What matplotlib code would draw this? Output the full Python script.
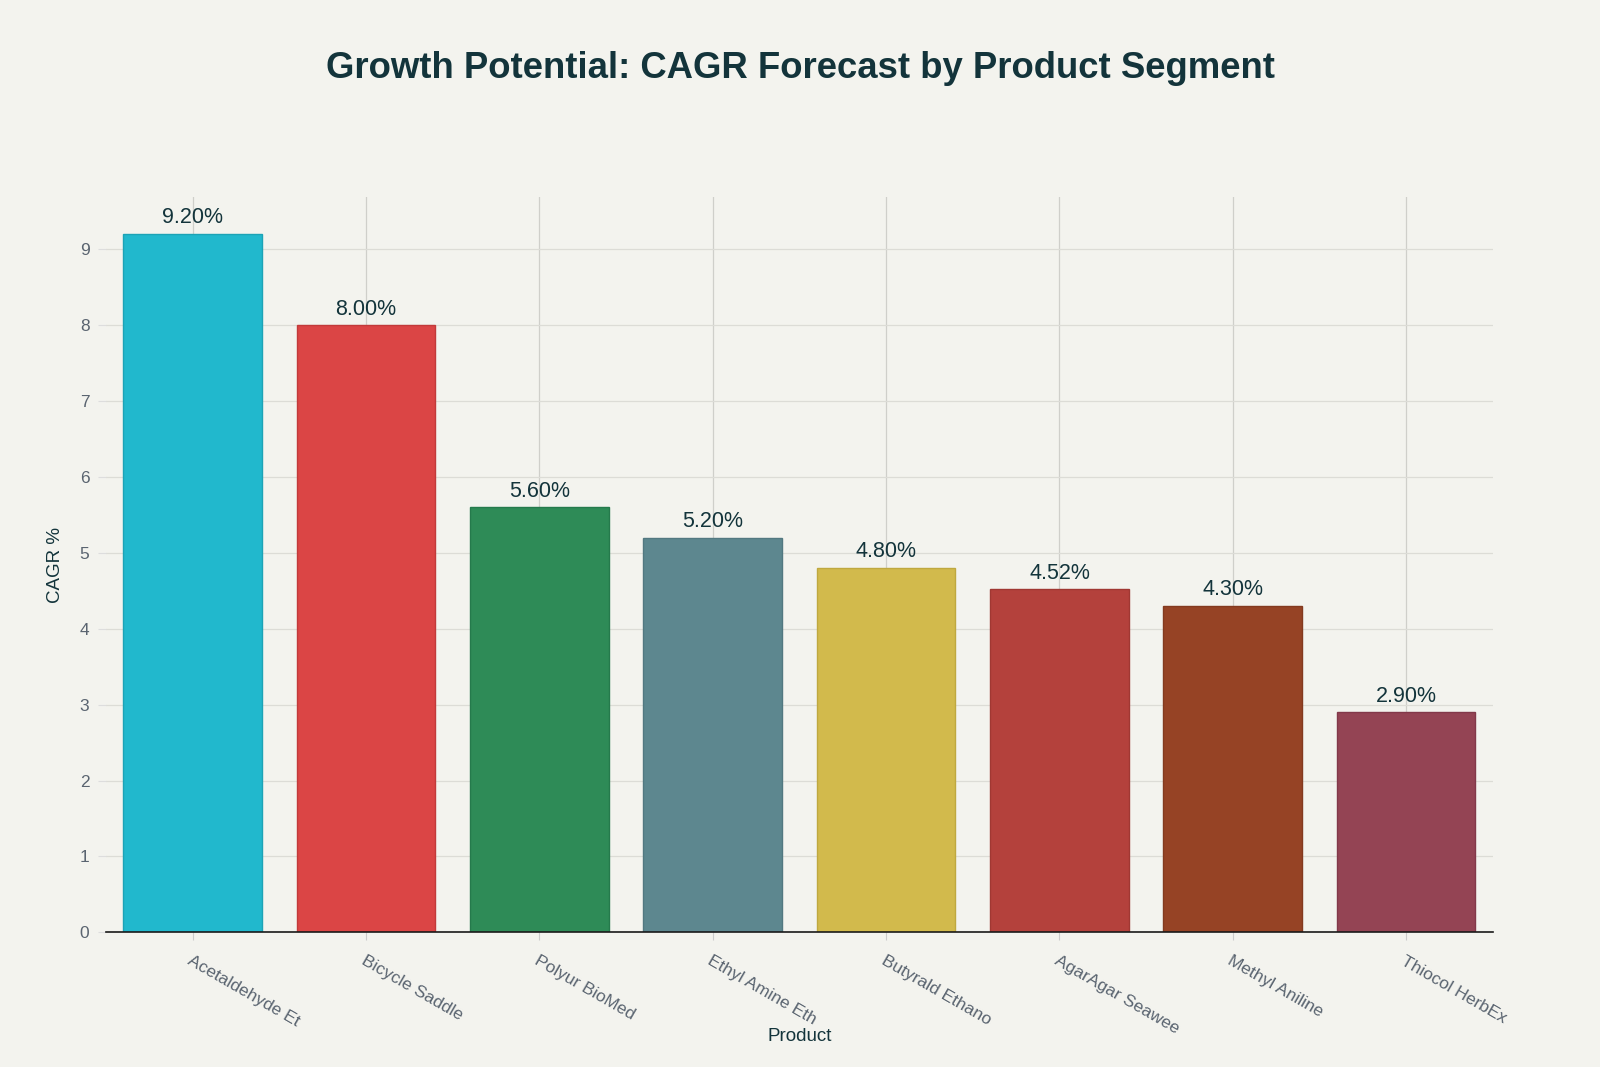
import matplotlib
matplotlib.use("Agg")
import matplotlib.pyplot as plt

products = ["Acetaldehyde Et", "Bicycle Saddle", "Polyur BioMed", "Ethyl Amine Eth",
            "Butyrald Ethano", "AgarAgar Seawee", "Methyl Aniline", "Thiocol HerbEx"]
cagr = [9.20, 8.00, 5.60, 5.20, 4.80, 4.52, 4.30, 2.90]
bar_colors = ["#21B8CD", "#DB4545", "#2E8B57", "#5D878F", "#D2BA4C", "#B4413C", "#964325", "#944454"]
edge_colors = ["#1CA3B6", "#C23A3A", "#257A4C", "#527880", "#BFA83F", "#A03833", "#833A1F", "#82394A"]
y_ticks = [0, 1, 2, 3, 4, 5, 6, 7, 8, 9]

bg = "#F3F3EE"
plt.rcParams['font.family'] = ['Liberation Sans', 'DejaVu Sans']

fig = plt.figure(figsize=(16, 10.67), dpi=100, facecolor=bg)
ax = fig.add_axes([0.0663, 0.1262, 0.8667, 0.6893], facecolor=bg)

x = list(range(len(products)))
ax.bar(x, cagr, width=0.8, color=bar_colors, edgecolor=edge_colors, linewidth=1, zorder=3)
for xi, v in zip(x, cagr):
    ax.annotate(f"{v:.2f}%", (xi, v), xytext=(0, 4), textcoords="offset points",
                ha="center", va="bottom", fontsize=15.5, color="#13343B", zorder=4)

ax.set_xlim(-0.5, len(products) - 0.5)
ax.set_ylim(0, 9.69)
ax.set_yticks(y_ticks)
ax.set_xticks(x)
ax.set_xticklabels(products, rotation=-30, ha="left", rotation_mode="anchor",
                   fontsize=12.5, color="#5A6470")
ax.tick_params(axis="x", length=6, color="#CCCCCC", pad=9)
ax.tick_params(axis="y", length=6, color="#DDDDDD", labelsize=12.5, labelcolor="#5A6470", pad=6)

ax.grid(True, axis="both", color="#DCDCD6", linewidth=0.9, zorder=0)
ax.xaxis.grid(True, color="#CFCFCA")
for s in ["top", "right", "left"]:
    ax.spines[s].set_visible(False)
ax.spines["bottom"].set_color("#1A1A1A")
ax.spines["bottom"].set_linewidth(1.2)
ax.spines["bottom"].set_zorder(5)

ax.set_xlabel("Product", fontsize=13.5, color="#13343B", labelpad=-6)
ax.set_ylabel("CAGR %", fontsize=13.5, color="#13343B", labelpad=11)

fig.text(0.5, 0.936, "Growth Potential: CAGR Forecast by Product Segment",
         ha="center", va="center", fontsize=26.3, fontweight="bold", color="#13343B")

fig.savefig("out.png", dpi=100, facecolor=bg)
